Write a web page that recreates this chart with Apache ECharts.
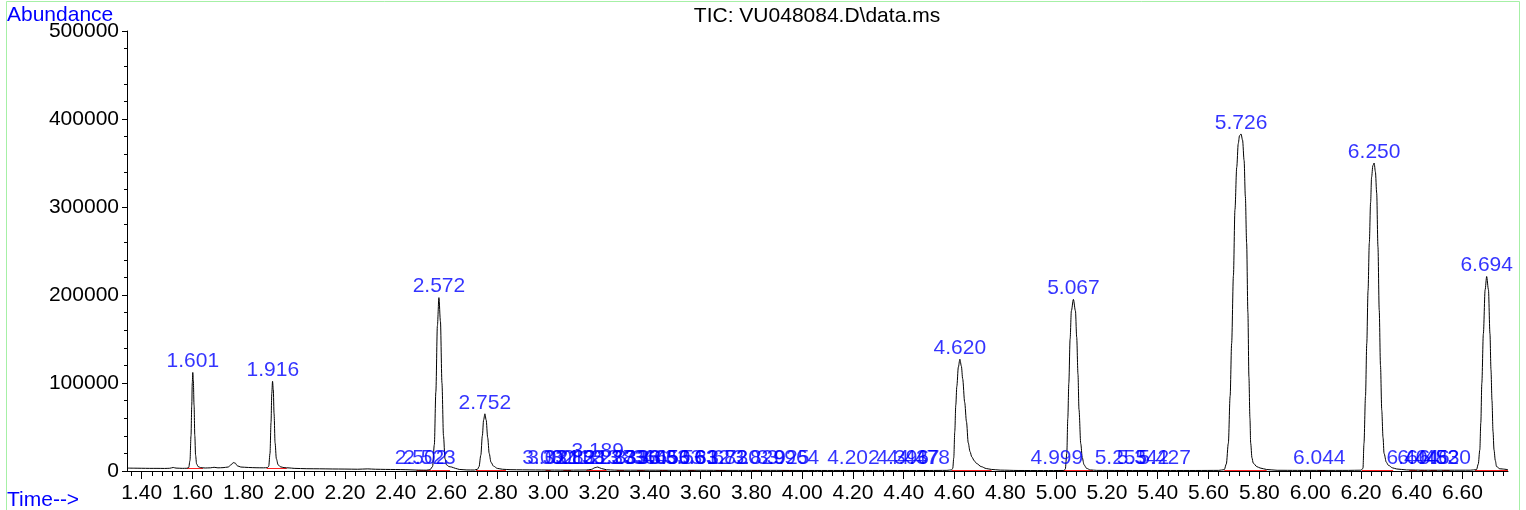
<!DOCTYPE html>
<html><head><meta charset="utf-8">
<script src="https://cdn.jsdelivr.net/npm/echarts@6.0.0/dist/echarts.min.js"></script>
<style>html,body{margin:0;padding:0;background:#fff}#c{width:1526px;height:510px}</style>
</head><body><div id="c"></div>
<script>
// ---- chromatogram trace (time in min, abundance) ----
const traceTime = [
1.342,1.37,1.40,1.43,1.46,1.49,1.51,1.524,1.535,1.56,1.578,
1.585,1.590,1.594,1.597,1.599,1.601,1.603,1.606,1.609,1.612,1.616,1.622,1.632,1.650,
1.67,1.685,1.70,1.72,1.74,1.752,1.760,1.768,1.776,1.79,1.82,1.85,1.88,1.895,
1.900,1.905,1.909,1.912,1.915,1.918,1.921,1.925,1.930,1.937,1.946,1.960,
1.98,2.00,2.05,2.10,2.15,2.20,2.25,2.29,2.32,2.36,2.40,2.44,2.48,2.50,2.52,2.535,
2.545,2.552,2.558,2.564,2.570,2.576,2.582,2.588,2.594,2.600,2.610,2.620,2.635,2.650,2.68,2.71,2.722,
2.728,2.735,2.741,2.746,2.751,2.756,2.762,2.768,2.775,2.785,2.800,2.82,2.85,2.90,2.95,3.00,3.05,3.10,3.15,
3.170,3.185,3.195,3.210,3.230,3.26,3.30,3.40,3.50,3.60,3.70,3.80,3.90,4.00,4.10,4.20,4.30,4.40,4.50,4.57,4.588,
4.593,4.597,4.601,4.605,4.609,4.615,4.621,4.627,4.632,4.640,4.647,4.654,4.661,4.668,4.678,4.687,4.705,4.725,4.745,4.78,4.85,4.95,5.03,
5.036,5.042,5.046,5.050,5.055,5.060,5.068,5.076,5.081,5.086,5.090,5.097,5.103,5.110,5.120,5.135,5.16,5.25,5.35,5.45,5.55,5.64,5.662,
5.670,5.678,5.685,5.691,5.698,5.704,5.711,5.717,5.722,5.728,5.734,5.740,5.745,5.750,5.755,5.759,5.763,5.766,5.771,5.776,5.790,5.803,5.829,5.87,5.95,6.05,6.15,6.20,
6.208,6.212,6.218,6.223,6.228,6.233,6.238,6.242,6.247,6.252,6.257,6.262,6.267,6.272,6.277,6.282,6.287,6.291,6.300,6.308,6.325,6.341,6.38,6.45,6.55,6.63,6.655,
6.662,6.668,6.672,6.676,6.682,6.689,6.695,6.702,6.708,6.712,6.716,6.720,6.724,6.729,6.734,6.747,6.779
];
const traceAbund = [
3300,3200,3100,3000,3000,2900,3100,4000,3300,3000,3100,
4000,12000,40000,75000,100000,112000,104000,75000,40000,18000,8000,5000,3800,3400,
3600,4200,3600,3800,4500,7000,9500,9000,6000,4500,4000,3700,3600,3800,
5500,20000,55000,88000,102000,92000,65000,32000,14000,7000,4800,3800,
3500,3000,2600,2500,2300,2200,2000,2400,2000,1800,1700,1500,1100,1000,900,1500,
5000,30000,90000,165000,197000,170000,100000,40000,14000,7000,5000,4500,3000,1800,1200,1100,2000,
5000,18000,40000,58000,65000,58000,38000,20000,10000,5500,3000,2000,1500,1300,1200,1100,1000,1000,1100,
1800,3800,4500,2800,1400,1000,900,900,800,800,700,700,700,600,600,600,600,600,600,700,1200,
3000,15000,45000,75000,96000,118000,127000,119000,105000,78000,56000,32000,22000,16000,11500,8500,5000,2800,1800,1000,600,500,600,
2000,20000,60000,100000,150000,182000,195000,182000,152000,110000,70000,31000,15000,7000,3000,1200,700,600,600,600,600,700,1500,
8000,31500,85000,145000,222000,297000,345000,372000,381000,383000,376000,353000,312000,259000,180000,107000,60000,31500,15000,9000,5000,3400,1700,800,700,700,700,900,
3000,31500,85000,145000,205000,259000,305000,334000,347000,350000,340000,316000,255000,183000,120000,69000,38000,20000,10000,6500,3500,2300,1200,900,900,900,1500,
8000,24000,55000,100000,156000,206000,221000,206000,156000,115000,80000,45000,24000,12000,5000,2500,1500
];

// ---- peak labels (position time, label abundance, text) ----
const peakTime = [1.601,1.916,2.570,2.751,4.621,5.068,5.728,6.252,6.695,
  2.500,2.533,
  3.002,3.021,3.082,3.112,3.131,3.195,3.237,3.283,3.336,3.366,3.406,3.456,3.503,3.563,3.612,3.682,3.730,3.829,3.925,3.964,4.202,4.396,4.437,4.478,
  5.003,5.255,5.342,5.427,6.036,6.404,6.446,6.482,6.530];
const peakAbund = [112000,102000,197000,65000,127000,195000,383000,350000,221000,
  1500,1500,
  1500,1500,1500,1500,1500,10000,1500,1500,1500,1500,1500,1500,1500,1500,1500,1500,1500,1500,1500,1500,1500,1500,1500,1500,
  1500,1500,1500,1500,1500,1500,1500,1500,1500];
const peakText = ['1.601','1.916','2.572','2.752','4.620','5.067','5.726','6.250','6.694',
  '2.502','2.523',
  '3.002','3.021','3.082','3.112','3.131','3.189','3.237','3.283','3.336','3.366','3.406','3.456','3.503','3.563','3.612','3.682','3.730','3.829','3.925','3.964','4.202','4.396','4.437','4.478',
  '4.999','5.255','5.342','5.427','6.044','6.404','6.446','6.482','6.530'];

// ---- integration baselines ----
const intStart = [1.578,1.892,2.482,2.540,2.716,2.99,3.06,3.15,3.27,3.35,3.44,3.55,3.66,3.80,3.92,4.19,4.38,4.46,4.588,4.996,5.24,5.33,5.41,5.662,6.03,6.203,6.39,6.43,6.47,6.52,6.649];
const intEnd   = [1.641,1.971,2.540,2.614,2.834,3.01,3.09,3.23,3.30,3.38,3.47,3.58,3.70,3.84,3.96,4.22,4.41,4.49,4.746,5.146,5.27,5.36,5.44,5.829,6.06,6.327,6.42,6.46,6.50,6.55,6.779];
const intLevel = [3100,3600,1000,1200,1300,1100,1000,1100,900,900,900,800,700,700,700,600,600,600,800,600,600,600,600,900,700,1000,900,900,900,900,1200];

// ---- axes ----
const xTickLabels = ['1.40','1.60','1.80','2.00','2.20','2.40','2.60','2.80','3.00','3.20','3.40','3.60','3.80','4.00','4.20','4.40','4.60','4.80','5.00','5.20','5.40','5.60','5.80','6.00','6.20','6.40','6.60'];
const yTickLabels = ['0','100000','200000','300000','400000','500000'];
const X_MIN = 1.342, X_MAX = 6.779;

const majorVals = xTickLabels.map(Number);
const minorVals = [];
for (let k = 34; k <= 169; k++) { minorVals.push(Math.round(k*4)/100); }

const FONT = 'Liberation Sans, Arial, sans-serif';
const chart = echarts.init(document.getElementById('c'), null, {renderer:'canvas'});

chart.setOption({
  animation:false,
  backgroundColor:'#ffffff',
  grid:{left:127, right:18, top:31, bottom:39},
  xAxis:[{
    type:'value', min:X_MIN, max:X_MAX,
    axisLine:{show:true, onZero:false, lineStyle:{color:'#000', width:1}},
    axisTick:{show:true, customValues:majorVals, length:8, lineStyle:{color:'#000', width:1}},
    axisLabel:{show:true, customValues:majorVals, formatter:v=>Number(v).toFixed(2), color:'#000', fontFamily:FONT, fontSize:21, margin:12},
    splitLine:{show:false}
  },{
    type:'value', min:X_MIN, max:X_MAX, position:'bottom',
    axisLine:{show:false, onZero:false},
    axisTick:{show:true, customValues:minorVals, length:5, lineStyle:{color:'#000', width:1}},
    axisLabel:{show:false},
    splitLine:{show:false}
  }],
  yAxis:{
    type:'value', min:0, max:500000, interval:100000,
    axisLine:{show:true, lineStyle:{color:'#000', width:1}},
    axisTick:{show:true, length:5, lineStyle:{color:'#000'}},
    minorTick:{show:true, splitNumber:5, length:3, lineStyle:{color:'#000'}},
    axisLabel:{color:'#000', fontFamily:FONT, fontSize:21, margin:8, formatter:(v)=>yTickLabels[Math.round(v/100000)]},
    splitLine:{show:false}, minorSplitLine:{show:false}
  },
  series:[{
    type:'lines', coordinateSystem:'cartesian2d', z:1, silent:true,
    lineStyle:{color:'#ff2020', width:1, opacity:1},
    data:intStart.map((s,i)=>({coords:[[s,intLevel[i]],[intEnd[i],intLevel[i]]]}))
  },{
    type:'line', z:3, silent:true, symbol:'none', showSymbol:false,
    smooth:0.3, smoothMonotone:'x',
    lineStyle:{color:'#000', width:1},
    data:traceTime.map((t,i)=>[t,traceAbund[i]])
  },{
    type:'scatter', z:4, silent:true, symbolSize:1,
    itemStyle:{color:'rgba(0,0,0,0)'},
    label:{show:true, position:'top', distance:0, offset:[3,0], formatter:'{b}', color:'#0000ff', fontFamily:FONT, fontSize:21},
    labelLayout:{hideOverlap:false},
    data:peakTime.map((t,i)=>({name:peakText[i], value:[t,peakAbund[i]]}))
  }],
  graphic:[
    {type:'rect', z:100, silent:true, shape:{x:1520, y:0, width:6, height:510}, style:{fill:'#fff'}},
    {type:'rect', z:101, silent:true, shape:{x:6.5, y:1.5, width:1513, height:520}, style:{fill:null, stroke:'#a6f0a6', lineWidth:1}},
    {type:'text', z:102, x:817, y:16, style:{text:'TIC: VU048084.D\\data.ms', fill:'#000', font:'21px '+FONT, align:'center', verticalAlign:'middle', textAlign:'center', textVerticalAlign:'middle'}},
    {type:'text', z:102, x:7, y:15, style:{text:'Abundance', fill:'#0000ff', font:'21px '+FONT, align:'left', verticalAlign:'middle', textAlign:'left', textVerticalAlign:'middle'}},
    {type:'text', z:102, x:7, y:500, style:{text:'Time-->', fill:'#0000ff', font:'21px '+FONT, align:'left', verticalAlign:'middle', textAlign:'left', textVerticalAlign:'middle'}}
  ]
});
</script>
</body></html>
